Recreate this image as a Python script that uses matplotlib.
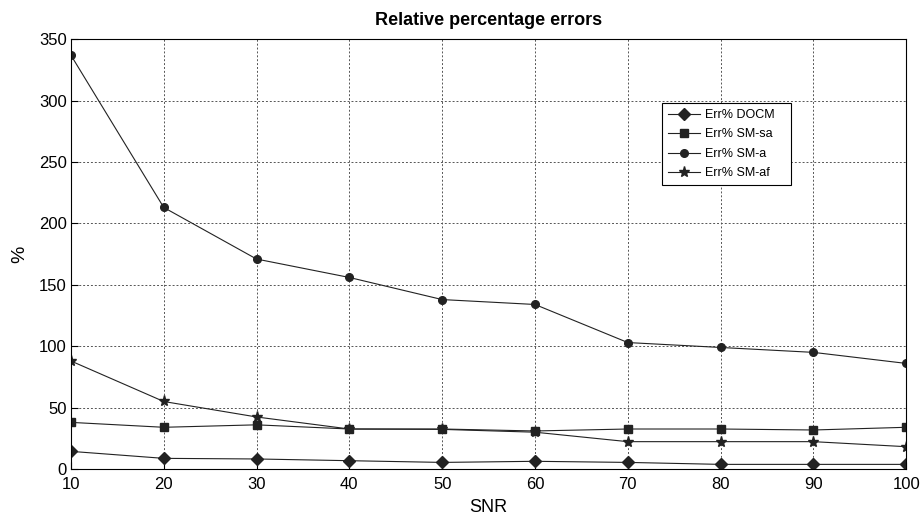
import matplotlib.pyplot as plt

plt.rcParams['font.family'] = ['Liberation Sans', 'DejaVu Sans']

snr = [10, 20, 30, 40, 50, 60, 70, 80, 90, 100]
err_docm = [14.4, 8.7, 8.2, 6.8, 5.4, 6.3, 5.4, 3.8, 3.8, 3.8]
err_sm_sa = [38, 34, 36, 32.6, 32.6, 31, 32.6, 32.6, 31.8, 34]
err_sm_a = [337, 213, 171, 156, 138, 134, 103, 99, 95, 86]
err_sm_af = [88, 55, 42.4, 32.6, 32.3, 30, 22.3, 22.3, 22.3, 18.2]

fig = plt.figure(figsize=(9.21, 5.16), dpi=100)
ax = fig.add_axes([0.077, 0.091, 0.907, 0.833])

# on trace les 4 courbes, trait fin noir comme sous matlab
style = dict(color='#222222', linewidth=0.8)
ax.plot(snr, err_docm, marker='D', markersize=6, label='Err% DOCM', **style)
ax.plot(snr, err_sm_sa, marker='s', markersize=6, label='Err% SM-sa', **style)
ax.plot(snr, err_sm_a, marker='o', markersize=5.5, label='Err% SM-a', **style)
ax.plot(snr, err_sm_af, marker='*', markersize=8, label='Err% SM-af', **style)

ax.set_xlim(10, 100)
ax.set_ylim(0, 350)
ax.set_xticks(snr)
ax.set_yticks(range(0, 351, 50))
ax.grid(True, linestyle=(0, (2, 2)), color='#555555', linewidth=0.7)
ax.tick_params(direction='in', labelsize=12, length=5)
ax.tick_params(axis='x', pad=6)
ax.tick_params(axis='y', pad=3)
for s in ax.spines.values():
    s.set_linewidth(0.8)

ax.set_title('Relative percentage errors', fontsize=13, fontweight='bold', pad=10)
ax.set_xlabel('SNR', fontsize=13)
ax.set_ylabel('%', fontsize=14)
ax.xaxis.set_label_coords(0.5, -0.07)
ax.yaxis.set_label_coords(-0.051, 0.5)

# legende calée à la main (boite un peu plus large que le texte, comme matlab)
leg = ax.legend(loc='upper left', bbox_to_anchor=(0.708, 0.851, 0.1545, 0),
                mode='expand', borderaxespad=0, fontsize=9,
                fancybox=False, framealpha=1, edgecolor='black',
                handlelength=2.6, borderpad=0.45, labelspacing=0.6,
                handletextpad=0.4)
leg.get_frame().set_linewidth(0.8)

plt.savefig('out.png')
